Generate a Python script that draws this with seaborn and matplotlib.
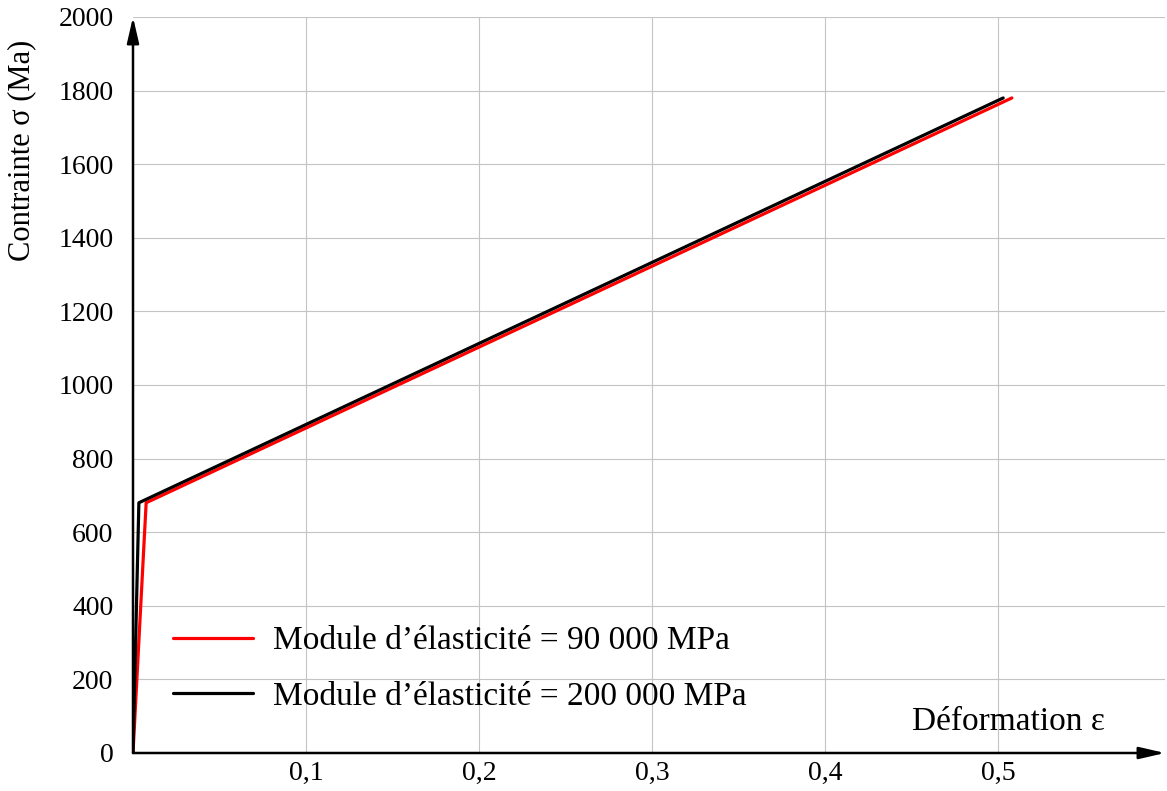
import matplotlib
matplotlib.use("Agg")
import matplotlib.pyplot as plt
import seaborn as sns
import pandas as pd

# Data
stress = [0, 680, 1780]
strain_e90 = [0, 0.0076, 0.508]
strain_e200 = [0, 0.0034, 0.503]
labels = ["Module d\u2019élasticité = 90 000 MPa", "Module d\u2019élasticité = 200 000 MPa"]
xticks = [0.1, 0.2, 0.3, 0.4, 0.5]
xticklabels = ["0,1", "0,2", "0,3", "0,4", "0,5"]
yticks = [0, 200, 400, 600, 800, 1000, 1200, 1400, 1600, 1800, 2000]

df = pd.DataFrame({
    "strain": strain_e90 + strain_e200,
    "stress": stress + stress,
    "serie": [labels[0]] * 3 + [labels[1]] * 3,
})

sns.set_theme(style="white")
plt.rcParams['font.family'] = ['Liberation Serif', 'DejaVu Serif']

fig = plt.figure(figsize=(11.67, 7.91), dpi=100)
ax = fig.add_axes([133/1167, 38/791, (1165-133)/1167, (753-17)/791])

sns.lineplot(data=df, x="strain", y="stress", hue="serie", sort=False,
             palette={labels[0]: "#ff0000", labels[1]: "#000000"},
             linewidth=2.3, ax=ax, estimator=None, legend=True)

xmax = (1165-133)/1730
ax.set_xlim(0, xmax)
ax.set_ylim(0, 2000)

for s in ax.spines.values():
    s.set_visible(False)

# grid
for xv in xticks:
    ax.axvline(xv, color="#c4c4c4", lw=0.8, zorder=0)
for yv in yticks[1:]:
    ax.axhline(yv, color="#c4c4c4", lw=0.8, zorder=0)
ax.grid(False)

# axes arrows
ap = dict(arrowstyle="-|>,head_length=1.3,head_width=0.3", lw=1.8, color="black",
          shrinkA=0, shrinkB=0)
ax.annotate("", xy=(1.0, 0), xytext=(0, 0), xycoords="axes fraction",
            arrowprops=ap, annotation_clip=False)
ax.annotate("", xy=(0, 1.0), xytext=(0, 0), xycoords="axes fraction",
            arrowprops=ap, annotation_clip=False)

ax.set_xticks(xticks)
ax.set_xticklabels(xticklabels)
ax.set_yticks(yticks)
ax.set_yticklabels([str(v) for v in yticks])
ax.tick_params(axis="both", length=0, labelsize=20, colors="black")
ax.tick_params(axis="x", pad=6)
ax.tick_params(axis="y", pad=14)
ax.set_xlabel("")
ax.set_ylabel("")

fig.text(22/1167, 1 - 150/791, "Contrainte σ (Ma)", rotation=90, ha="center", va="center",
         fontsize=22, color="black")
ax.text(0.506, 84, "Déformation ε", ha="center", va="center", fontsize=24, color="black")

leg = ax.legend(loc="lower left", bbox_to_anchor=(0.01, 0.015), frameon=False,
                fontsize=24, handlelength=2.4, handletextpad=0.6, labelspacing=0.75)
for t in leg.get_texts():
    t.set_color("black")

fig.savefig("out.png", dpi=100)
